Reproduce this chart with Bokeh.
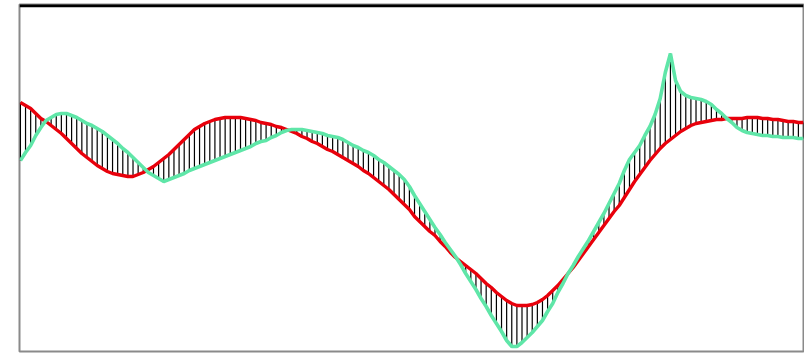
from bokeh.plotting import figure
from bokeh.models import Range1d, Span, ColumnDataSource
from bokeh.embed import file_html
from bokeh.resources import INLINE

# Slow (signal) line, one value per bar
signal = [
    249, 246, 243, 238, 233, 230, 226, 222, 218, 213,
    208, 203, 198, 194, 190, 186, 183, 180, 178, 177,
    176, 175, 175, 177, 179, 182, 185, 189, 193, 197,
    202, 207, 212, 217, 222, 225, 228, 230, 232, 233,
    234, 234, 234, 234, 233, 232, 231, 229, 228, 227,
    225, 224, 222, 220, 218, 215, 213, 210, 208, 205,
    202, 200, 197, 194, 191, 188, 185, 181, 178, 174,
    170, 166, 162, 157, 152, 147, 142, 135, 130, 125,
    120, 116, 110, 105, 99, 94, 90, 86, 82, 78,
    73, 68, 64, 59, 55, 51, 48, 46, 46, 46,
    47, 49, 52, 56, 61, 66, 72, 78, 84, 91,
    98, 105, 112, 119, 126, 133, 140, 146, 154, 162,
    170, 177, 184, 191, 197, 203, 208, 212, 216, 220,
    223, 226, 228, 229, 230, 231, 232, 232, 233, 233,
    233, 233, 234, 234, 234, 233, 233, 232, 232, 231,
    230, 230, 229, 229,
]

# Fast line, one value per bar
fast = [
    191, 199, 206, 216, 224, 231, 234, 237, 238, 238,
    236, 234, 231, 228, 226, 223, 220, 216, 212, 208,
    203, 199, 194, 189, 184, 179, 176, 173, 170, 172,
    174, 176, 178, 181, 183, 185, 187, 189, 191, 193,
    195, 197, 199, 201, 203, 205, 208, 210, 211, 214,
    216, 219, 221, 222, 222, 222, 221, 220, 219, 218,
    216, 215, 214, 212, 209, 206, 204, 201, 199, 196,
    192, 189, 185, 181, 177, 172, 165, 156, 148, 140,
    132, 124, 117, 109, 102, 95, 87, 78, 70, 62,
    53, 45, 36, 28, 20, 11, 5, 5, 9, 14,
    19, 25, 31, 40, 48, 59, 68, 78, 86, 95,
    103, 111, 120, 129, 138, 148, 158, 168, 181, 192,
    199, 206, 216, 225, 237, 253, 279, 298, 271, 260,
    256, 254, 253, 252, 250, 247, 242, 238, 233, 229,
    224, 221, 219, 218, 217, 216, 216, 215, 215, 214,
    214, 214, 213, 213,
]

bars = list(range(len(signal)))

src = ColumnDataSource(data=dict(x=bars, signal=signal, fast=fast))

p = figure(
    width=804, height=354,
    output_backend="svg", toolbar_location=None,
    x_range=Range1d(-0.18, 153.0), y_range=Range1d(0, 347),
    x_axis_location=None, y_axis_location=None,
    min_border_left=19, min_border_right=1,
    min_border_top=4, min_border_bottom=3,
)
p.grid.visible = False
p.background_fill_color = "white"
p.border_fill_color = "white"
p.outline_line_color = "#8a8a8a"
p.outline_line_width = 2

# thick rule along the top edge
p.add_layout(Span(location=346, dimension="width", line_color="black", line_width=3.5))

# vertical connectors between the two lines
p.segment(x0="x", y0="signal", x1="x", y1="fast", source=src,
          line_color="black", line_width=1.2)

p.line("x", "signal", source=src, line_color="#e8000b", line_width=3.4)
p.line("x", "fast", source=src, line_color="#5fe6a8", line_width=3.6)

open("out.html", "w").write(file_html(p, INLINE))
